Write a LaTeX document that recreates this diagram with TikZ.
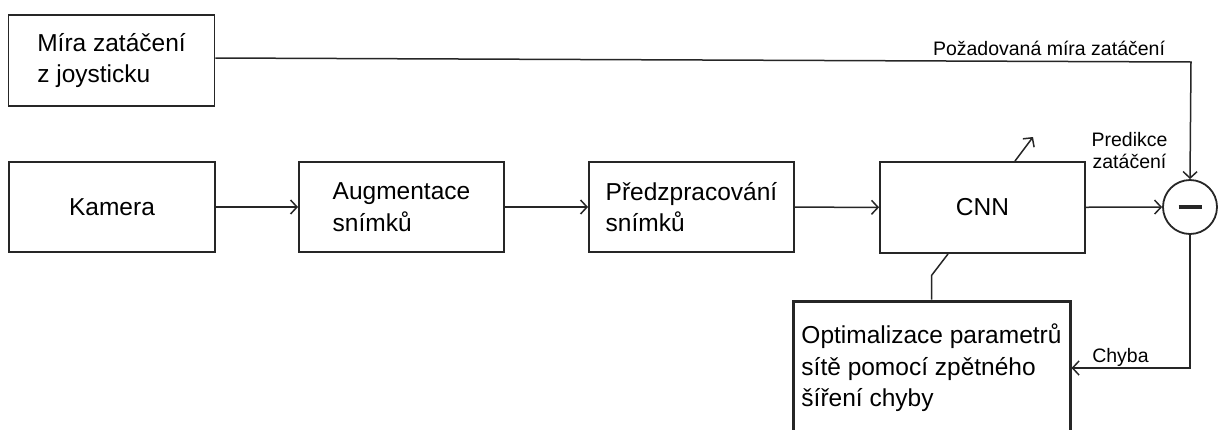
\documentclass[tikz,border=0pt]{standalone}
\usepackage{fontspec}
\setmainfont{Liberation Sans}
\usetikzlibrary{arrows.meta,calc}
\begin{document}
\begin{tikzpicture}[x=1pt,y=-1pt,
  block/.style={draw=black!85,line width=1.9pt,inner sep=0pt,font=\fontsize{24.5}{31.5}\selectfont,align=left},
  arr/.style={draw=black!85,line width=1.5pt,-{Straight Barb[length=6.5pt,width=14pt,line width=1.5pt]}},
  line/.style={draw=black!85,line width=1.5pt},
  lbl/.style={font=\fontsize{19.5}{22}\selectfont,inner sep=0pt,align=center}]
\useasboundingbox (0,0) rectangle (1224,429);
\clip (0,0) rectangle (1224,429);

% blocks
\node[block,minimum width=206pt,minimum height=91pt] (joy) at (111.5,60.5) {Míra zatáčení\\z joysticku};
\node[block,minimum width=206pt,minimum height=90pt] (kam) at (112,207) {Kamera};
\node[block,minimum width=205pt,minimum height=90pt] (aug) at (401.5,207) {Augmentace\\snímků};
\node[block,minimum width=205pt,minimum height=90pt] (pre) at (691.5,207) {Předzpracování\\snímků};
\node[block,minimum width=205pt,minimum height=91pt] (cnn) at (982.5,207.5) {CNN};
\node[block,line width=3pt,minimum width=277pt,minimum height=134pt] (opt) at (931.5,368) {Optimalizace parametrů\\sítě pomocí zpětného\\šíření chyby};

% summing junction
\node[draw=black!85,line width=1.8pt,circle,minimum size=54pt,inner sep=0pt] (sum) at (1190,207) {};
\draw[line width=3.6pt,black!85] ($(sum.center)+(-11.5,0)$) -- ($(sum.center)+(11.5,0)$);

% signal flow
\draw[arr] (kam) -- (aug);
\draw[arr] (aug) -- (pre);
\draw[arr] (pre) -- (cnn);
\draw[arr] (cnn) -- (sum);
\coordinate (corner) at (1191,62);
\draw[arr] ($(joy.east)+(0,-2.5)$) -- (corner) -- (sum.north);
\draw[arr] (sum.south) |- (opt.east);

% parameter update link
\draw[line] (opt.north) -- ++(0,-24) -- ($(cnn.south)+(-34.5,0)$);
\coordinate (adjust) at (1033,137);
\draw[arr] ($(cnn.north)+(32.5,0)$) -- (adjust);

% labels
\node[lbl,anchor=base] (lreq) at (1049,55) {Požadovaná míra zatáčení};
\node[lbl,anchor=base] (lpred) at (1129.5,168) {Predikce\\zatáčení};
\node[lbl,anchor=base] (lerr) at (1120.5,362) {Chyba};
\end{tikzpicture}
\end{document}
